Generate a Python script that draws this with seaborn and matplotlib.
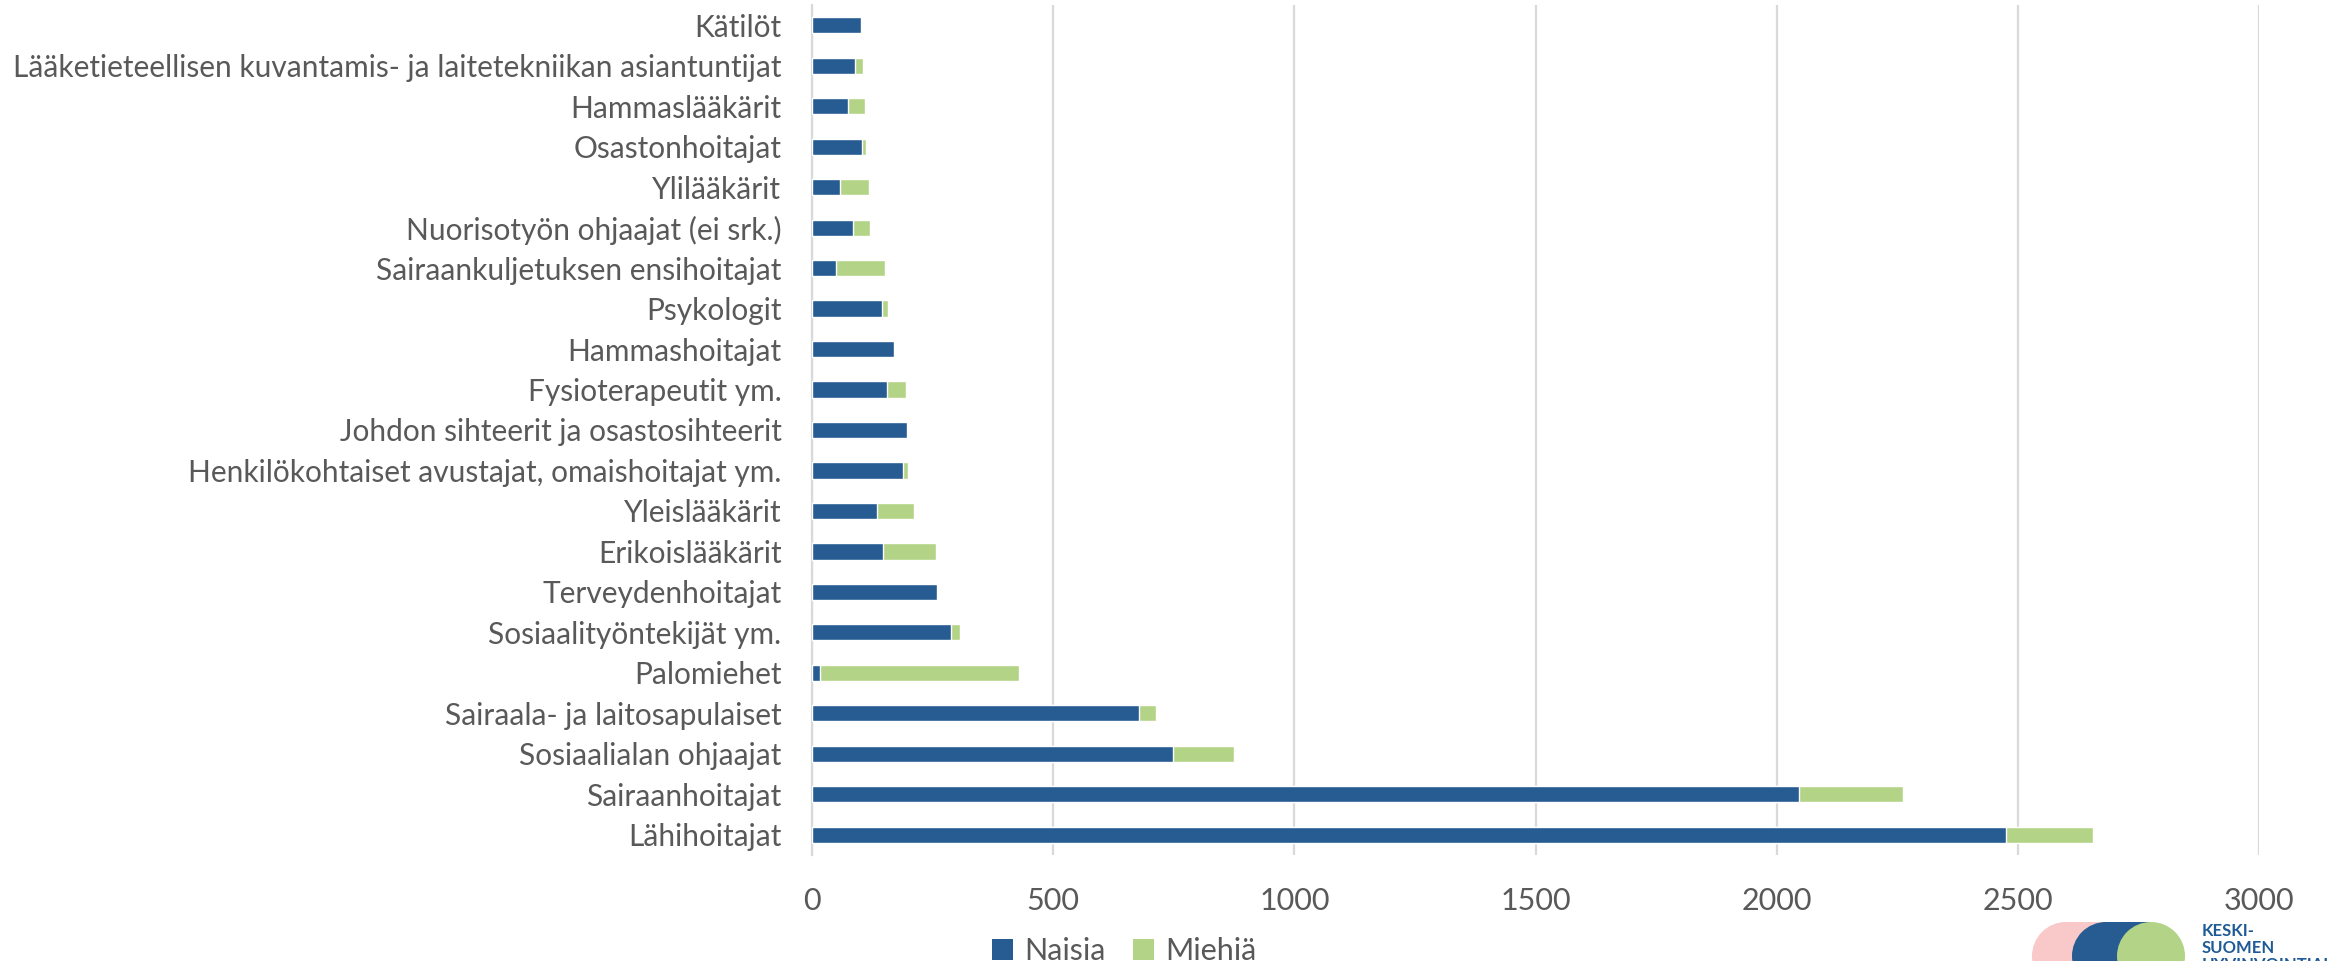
import matplotlib
matplotlib.use("Agg")
import matplotlib.pyplot as plt
import seaborn as sns
import pandas as pd
from matplotlib.patches import Patch, Circle, Rectangle

categories = ["Kätilöt",
              "Lääketieteellisen kuvantamis- ja laitetekniikan asiantuntijat",
              "Hammaslääkärit", "Osastonhoitajat", "Ylilääkärit",
              "Nuorisotyön ohjaajat (ei srk.)",
              "Sairaankuljetuksen ensihoitajat", "Psykologit", "Hammashoitajat",
              "Fysioterapeutit ym.", "Johdon sihteerit ja osastosihteerit",
              "Henkilökohtaiset avustajat, omaishoitajat ym.", "Yleislääkärit",
              "Erikoislääkärit", "Terveydenhoitajat", "Sosiaalityöntekijät ym.",
              "Palomiehet", "Sairaala- ja laitosapulaiset", "Sosiaalialan ohjaajat",
              "Sairaanhoitajat", "Lähihoitajat"]
naisia = [101, 90, 75, 103, 58, 84, 50, 146, 169, 156, 197, 188, 134, 148,
          259, 289, 17, 678, 748, 2047, 2475]
miehia = [0, 15, 35, 9, 61, 37, 101, 12, 0, 38, 0, 11, 77, 109, 2, 17,
          413, 36, 127, 215, 181]
series_names = ["Naisia", "Miehiä"]
x_ticks = [0, 500, 1000, 1500, 2000, 2500, 3000]

BLUE = "#265C92"
GREEN = "#B3D486"
TEXT = "#595959"
GRID = "#D9D9D9"

sns.set_theme(style="white")
plt.rcParams["font.family"] = ["Lato", "DejaVu Sans"]

df = pd.DataFrame({"cat": categories, "naisia": naisia, "miehia": miehia})
df["total"] = df["naisia"] + df["miehia"]

fig = plt.figure(figsize=(23.33, 9.61), dpi=100)
W, H = 2333, 961
left, right, top, bottom = 812, 2259, 5, 855
ax = fig.add_axes([left / W, 1 - bottom / H, (right - left) / W, (bottom - top) / H])

sns.barplot(data=df, x="total", y="cat", color=GREEN, width=0.4, orient="h",
            saturation=1, ax=ax, zorder=3)
sns.barplot(data=df, x="naisia", y="cat", color=BLUE, width=0.4, orient="h",
            saturation=1, ax=ax, zorder=4)

ax.set_xlim(0, 3000)
ax.set_ylim(len(categories) - 0.5, -0.5)
ax.set_xticks(x_ticks)
ax.set_xticklabels([str(t) for t in x_ticks])
ax.set_xlabel("")
ax.set_ylabel("")
ax.grid(axis="x", color=GRID, linewidth=1.6, zorder=0)
ax.grid(axis="y", visible=False)
for s in ["top", "right", "bottom"]:
    ax.spines[s].set_visible(False)
ax.spines["left"].set_color(GRID)
ax.spines["left"].set_linewidth(1.6)
ax.tick_params(axis="x", length=0, pad=23, labelsize=22, labelcolor=TEXT)
ax.tick_params(axis="y", length=0, pad=22, labelsize=21.5, labelcolor=TEXT)

handles = [Patch(facecolor=BLUE, edgecolor="none"), Patch(facecolor=GREEN, edgecolor="none")]
fig.legend(handles, series_names, loc="center", bbox_to_anchor=(1124 / W, 1 - 951 / H),
           ncol=2, frameon=False, fontsize=22, labelcolor=TEXT,
           handlelength=0.7, handleheight=0.7, handletextpad=0.35, columnspacing=0.9)

# logo (decoration)
tr = fig.dpi_scale_trans
def P(x, y):
    return (x / 100, (H - y) / 100)
r = 0.34
cy = 956
fig.patches.append(Rectangle(P(2066, cy + 34), 0.45, 0.68, facecolor="#F9C9CA", edgecolor="none", transform=tr))
fig.patches.append(Circle(P(2066, cy), r, facecolor="#F9C9CA", edgecolor="none", transform=tr))
fig.patches.append(Rectangle(P(2106, cy + 34), 0.45, 0.68, facecolor=BLUE, edgecolor="none", transform=tr))
fig.patches.append(Circle(P(2106, cy), r, facecolor=BLUE, edgecolor="none", transform=tr))
fig.patches.append(Circle(P(2151, cy), r, facecolor=GREEN, edgecolor="none", transform=tr))
for i, t in enumerate(["KESKI-", "SUOMEN", "HYVINVOINTIALUE"]):
    fig.text(2202 / W, 1 - (923 + 17 * i) / H, t, ha="left", va="top", fontsize=12,
             fontweight="bold", color="#1F5A96")

fig.savefig("out.png", dpi=100)
